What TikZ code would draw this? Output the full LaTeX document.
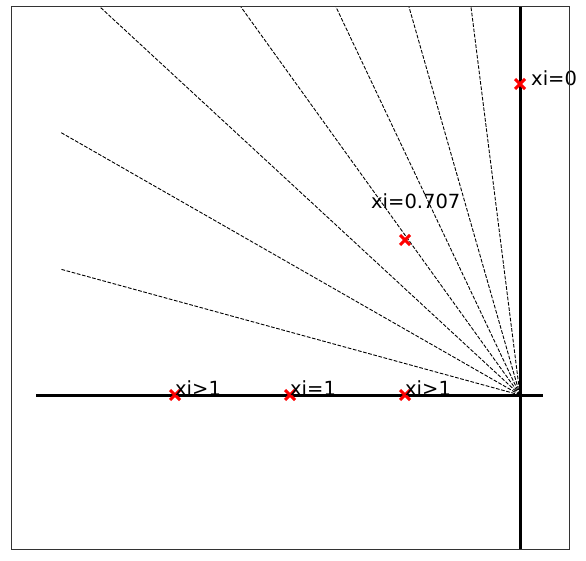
\documentclass[tikz,border=0pt]{standalone}
\usepackage{fontspec}
\setmainfont{DejaVu Sans}
\usetikzlibrary{calc}
\begin{document}
\begin{tikzpicture}[x=1pt,y=-1pt,
  ray/.style={black,line width=0.9pt,dash pattern=on 3.7pt off 1.6pt},
  axisline/.style={black,line width=3pt},
  pole/.style={red,line width=3pt},
  lbl/.style={anchor=base west,inner sep=0pt,font=\fontsize{19.5}{20}\selectfont}]
\useasboundingbox (0,0) rectangle (586,561);
\fill[white] (0,0) rectangle (586,561);
% rays
\coordinate (o) at (520,395);
\foreach \n/\px/\py in {r1/60/269, r2/60/132, r3/100/7, r4/241/7, r5/336/7, r6/409/7, r7/471/7}{
  \coordinate (\n) at (\px,\py);
  \draw[ray] (o) -- (\n);
}
% axes
\coordinate (hl) at (36,395);
\coordinate (hr) at (543,395);
\coordinate (vt) at (520,7);
\coordinate (vb) at (520,549);
\draw[axisline] (hl) -- (hr);
\draw[axisline] (vt) -- (vb);
% poles
\foreach \n/\px/\py in {p0/520/84, p1/405/240, p2/405/395, p3/290/395, p4/175/395}{
  \coordinate (\n) at (\px,\py);
  \draw[pole] ($(\n)+(-5,-5)$) -- ($(\n)+(5,5)$);
  \draw[pole] ($(\n)+(-5,5)$) -- ($(\n)+(5,-5)$);
}
% labels
\node[lbl] (l0) at (531,86) {xi=0};
\node[lbl] (l1) at (371,209) {xi=0.707};
\node[lbl] (l2) at (405,395) {xi>1};
\node[lbl] (l3) at (290,395) {xi=1};
\node[lbl] (l4) at (175,395) {xi>1};
% frame
\draw[black!80,line width=1pt] (11,7) rectangle (569,549);
\end{tikzpicture}
\end{document}
